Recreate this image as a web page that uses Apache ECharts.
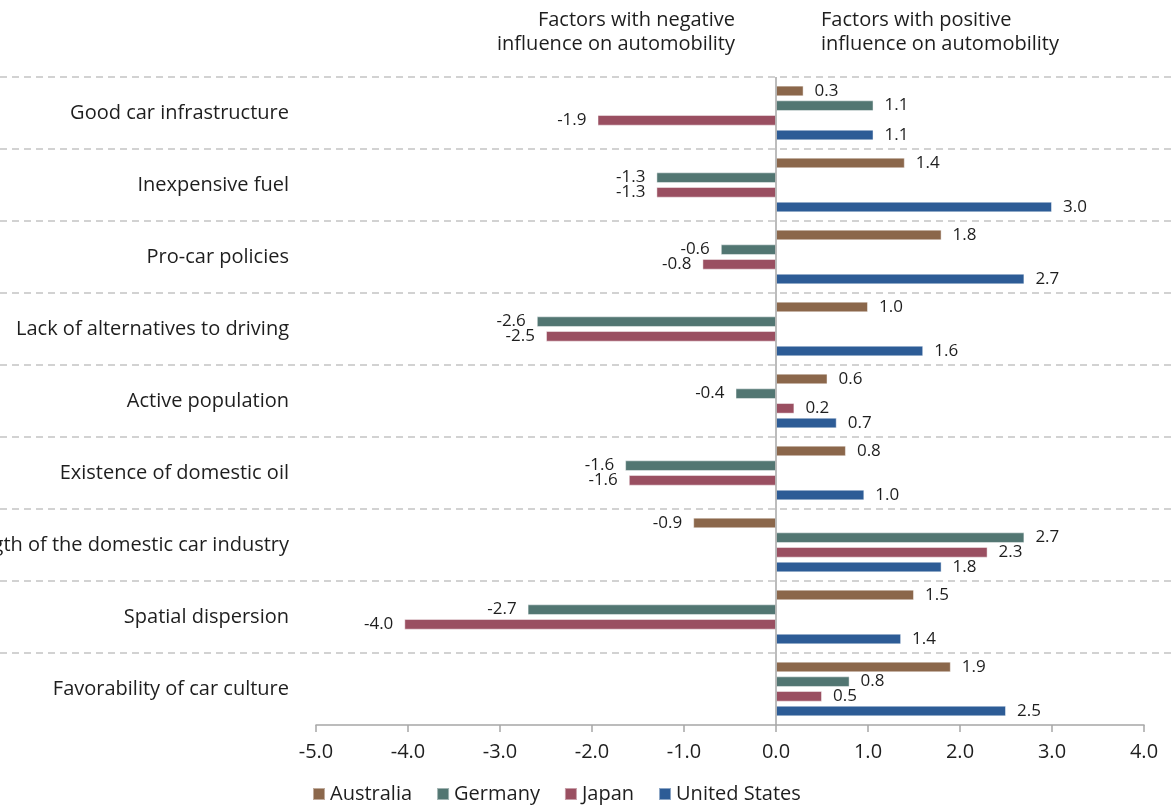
<!DOCTYPE html>
<html>
<head>
<meta charset="utf-8">
<script src="https://cdn.jsdelivr.net/npm/echarts@6/dist/echarts.min.js"></script>
<style>
html,body{margin:0;padding:0;background:#fff;}
#chart{width:1173px;height:806px;}
</style>
</head>
<body>
<div id="chart"></div>
<script>
const categories = [
  'Good car infrastructure',
  'Inexpensive fuel',
  'Pro-car policies',
  'Lack of alternatives to driving',
  'Active population',
  'Existence of domestic oil',
  'Strength of the domestic car industry',
  'Spatial dispersion',
  'Favorability of car culture'
];
const australia    = [0.30, 1.40, 1.80, 1.00, 0.56, 0.76, -0.90, 1.50, 1.90];
const germany      = [1.06, -1.30, -0.60, -2.60, -0.44, -1.64, 2.70, -2.70, 0.80];
const japan        = [-1.94, -1.30, -0.80, -2.50, 0.20, -1.60, 2.30, -4.04, 0.50];
const unitedStates = [1.06, 3.00, 2.70, 1.60, 0.66, 0.96, 1.80, 1.36, 2.50];
const seriesNames = ['Australia', 'Germany', 'Japan', 'United States'];
const xTicks = { min: -5, max: 4, interval: 1 };
const titleNegative = 'Factors with negative\ninfluence on automobility';
const titlePositive = 'Factors with positive\ninfluence on automobility';

const colors = ['#8B674B', '#527672', '#9A4F61', '#2D5C96'];
const FONT = '"Open Sans", "Noto Sans", sans-serif';
const TXT = '#1e1e1e';

function mkData(arr) {
  return arr.map(v => ({ value: v, label: { position: v < 0 ? 'left' : 'right' } }));
}

const allValues = [australia, germany, japan, unitedStates];
const series = allValues.map((arr, i) => ({
  name: seriesNames[i],
  type: 'bar',
  xAxisIndex: 0,
  yAxisIndex: 0,
  data: mkData(arr),
  barCategoryGap: '24%',
  barGap: '38%',
  itemStyle: { color: colors[i], borderColor: 'rgba(255,255,255,0.45)', borderWidth: 1 },
  label: {
    show: true,
    fontFamily: FONT,
    fontSize: 17,
    color: TXT,
    distance: 11,
    formatter: p => p.value.toFixed(1)
  },
  z: 3
}));
series[0].markLine = {
  silent: true,
  symbol: ['none', 'none'],
  label: { show: false },
  lineStyle: { color: '#a6a6a6', width: 1.5, type: 'solid' },
  data: [{ xAxis: 0 }],
  z: 5
};

const chart = echarts.init(document.getElementById('chart'), null, { renderer: 'canvas' });
chart.setOption({
  animation: false,
  backgroundColor: '#fff',
  textStyle: { fontFamily: FONT },
  grid: [
    { left: 316, right: 29, top: 77, bottom: 81, containLabel: false, outerBoundsMode: 'none' },
    { left: 0, right: 0, top: 77, bottom: 81, containLabel: false, outerBoundsMode: 'none' }
  ],
  xAxis: [
    {
      gridIndex: 0,
      type: 'value',
      min: xTicks.min,
      max: xTicks.max,
      interval: xTicks.interval,
      axisLine: { show: true, onZero: false, lineStyle: { color: '#a6a6a6', width: 1.5 } },
      axisTick: { show: true, length: 7, lineStyle: { color: '#a6a6a6', width: 1.5 } },
      axisLabel: { fontFamily: FONT, fontSize: 20, color: TXT, margin: 17, formatter: v => v.toFixed(1) },
      splitLine: { show: false }
    },
    {
      gridIndex: 1,
      type: 'value',
      show: false,
      min: 0,
      max: 1
    }
  ],
  yAxis: [
    {
      gridIndex: 0,
      type: 'category',
      data: categories,
      inverse: true,
      axisLine: { show: false, onZero: false },
      axisTick: { show: false },
      axisLabel: { fontFamily: FONT, fontSize: 20, color: TXT, margin: 27, padding: [4, 0, 0, 0] },
      splitLine: { show: false }
    },
    {
      gridIndex: 1,
      type: 'category',
      data: categories,
      inverse: true,
      axisLine: { show: false },
      axisTick: { show: false },
      axisLabel: { show: false },
      splitLine: {
        show: true,
        showMinLine: true,
        showMaxLine: false,
        lineStyle: { color: '#c4c4c4', width: 1.5, type: [7, 5] }
      }
    }
  ],
  legend: {
    left: 307,
    top: 779,
    icon: 'rect',
    itemWidth: 12,
    itemHeight: 12,
    itemGap: 24,
    data: seriesNames,
    textStyle: { fontFamily: FONT, fontSize: 20, color: TXT }
  },
  graphic: [
    {
      type: 'text',
      x: 735, y: 8,
      style: { text: titleNegative, font: '20px ' + FONT, fill: TXT, textAlign: 'right', textVerticalAlign: 'top', lineHeight: 24 }
    },
    {
      type: 'text',
      x: 821, y: 8,
      style: { text: titlePositive, font: '20px ' + FONT, fill: TXT, textAlign: 'left', textVerticalAlign: 'top', lineHeight: 24 }
    }
  ],
  series: series
});
</script>
</body>
</html>
